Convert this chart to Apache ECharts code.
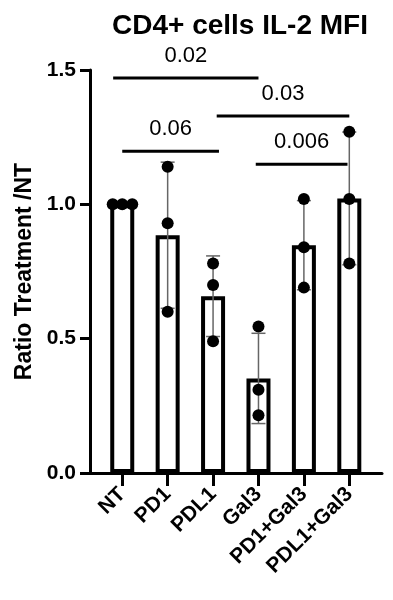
<!DOCTYPE html>
<html>
<head>
<meta charset="utf-8">
<script src="https://cdn.jsdelivr.net/npm/echarts@6/dist/echarts.min.js"></script>
<style>
html,body{margin:0;padding:0;background:#fff;}
#chart{width:393px;height:600px;}
</style>
</head>
<body>
<div id="chart"></div>
<script>
// ---- data ----
const categories = ['NT', 'PD1', 'PDL1', 'Gal3', 'PD1+Gal3', 'PDL1+Gal3'];
const means = [1.00, 0.885, 0.658, 0.352, 0.848, 1.022];
const sds = [0, 0.272, 0.150, 0.168, 0.166, 0.247];
const pointsNT = [1.00, 1.00, 1.00];
const pointsPD1 = [1.14, 0.93, 0.60];
const pointsPDL1 = [0.78, 0.70, 0.49];
const pointsGal3 = [0.545, 0.31, 0.215];
const pointsPD1Gal3 = [1.02, 0.84, 0.69];
const pointsPDL1Gal3 = [1.27, 1.02, 0.78];
const jitterNT = [-0.21, 0, 0.22];
const yTicks = [0, 0.5, 1.0, 1.5];
// significance brackets: [from category, to category, height, p-value]
const bracketFrom = [-0.2, 0, 2.08, 2.94];
const bracketTo = [3.0, 2.13, 5.0, 4.96];
const bracketY = [1.47, 1.198, 1.329, 1.149];
const bracketP = ['0.02', '0.06', '0.03', '0.006'];

const allPoints = [pointsNT, pointsPD1, pointsPDL1, pointsGal3, pointsPD1Gal3, pointsPDL1Gal3];
const scatterData = [];
allPoints.forEach((pts, i) => {
  pts.forEach((v, j) => {
    const dx = i === 0 ? jitterNT[j] : 0;
    scatterData.push([i + dx, v]);
  });
});
const barData = means.map((m, i) => [i, m]);
const errData = means.map((m, i) => [i, m - sds[i], m + sds[i]]).filter((d, i) => sds[i] > 0);
const bracketData = bracketFrom.map((f, i) => [f, bracketTo[i], bracketY[i], i]);

const chart = echarts.init(document.getElementById('chart'), null, {renderer: 'canvas'});
const FONT = 'Liberation Sans, Arial, sans-serif';
chart.setOption({
  animation: false,
  backgroundColor: '#fff',
  title: {
    text: 'CD4+ cells IL-2 MFI',
    left: 235,
    textAlign: 'center',
    top: 7,
    textStyle: {fontFamily: FONT, fontWeight: 'bold', fontSize: 28, color: '#000'}
  },
  grid: {left: 90, right: 11, top: 70, bottom: 127},
  xAxis: {
    type: 'value',
    min: -0.71,
    max: 5.72,
    splitLine: {show: false},
    axisLine: {show: true, onZero: false, lineStyle: {color: '#000', width: 3}},
    axisTick: {show: true, customValues: [0, 1, 2, 3, 4, 5], length: 13, lineStyle: {color: '#000', width: 3}},
    axisLabel: {
      customValues: [0, 1, 2, 3, 4, 5],
      formatter: v => categories[Math.round(v)],
      rotate: 45,
      margin: 18,
      fontFamily: FONT, fontWeight: 'bold', fontSize: 21, color: '#000'
    }
  },
  yAxis: {
    type: 'value',
    min: 0,
    max: 1.5,
    interval: 0.5,
    name: 'Ratio Treatment /NT',
    nameLocation: 'middle',
    nameGap: 53,
    nameTextStyle: {fontFamily: FONT, fontWeight: 'bold', fontSize: 23, color: '#000'},
    splitLine: {show: false},
    axisLine: {show: true, onZero: false, lineStyle: {color: '#000', width: 3}},
    axisTick: {show: true, length: 10, lineStyle: {color: '#000', width: 3}},
    axisLabel: {
      margin: 14,
      formatter: v => v.toFixed(1),
      fontFamily: FONT, fontWeight: 'bold', fontSize: 21, color: '#000'
    }
  },
  series: [
    {
      type: 'bar',
      data: barData,
      barWidth: 24,
      z: 2,
      itemStyle: {color: '#fff', borderColor: '#000', borderWidth: 4}
    },
    {
      type: 'custom',
      z: 3,
      data: errData,
      renderItem: (params, api) => {
        const x = api.value(0);
        const lo = api.coord([x, api.value(1)]);
        const hi = api.coord([x, api.value(2)]);
        const hw = 7;
        const st = {stroke: '#666', lineWidth: 1.5};
        return {
          type: 'group',
          children: [
            {type: 'line', shape: {x1: lo[0], y1: lo[1], x2: hi[0], y2: hi[1]}, style: st},
            {type: 'line', shape: {x1: lo[0] - hw, y1: lo[1], x2: lo[0] + hw, y2: lo[1]}, style: st},
            {type: 'line', shape: {x1: hi[0] - hw, y1: hi[1], x2: hi[0] + hw, y2: hi[1]}, style: st}
          ]
        };
      }
    },
    {
      type: 'scatter',
      z: 4,
      data: scatterData,
      symbol: 'circle',
      symbolSize: 12,
      itemStyle: {color: '#000', opacity: 1}
    },
    {
      type: 'custom',
      z: 5,
      data: bracketData,
      clip: false,
      renderItem: (params, api) => {
        const y = api.value(2);
        const a = api.coord([api.value(0), y]);
        const b = api.coord([api.value(1), y]);
        const idx = api.value(3);
        return {
          type: 'group',
          children: [
            {type: 'line', shape: {x1: a[0], y1: a[1], x2: b[0], y2: b[1]}, style: {stroke: '#000', lineWidth: 3}},
            {type: 'text', style: {
              text: bracketP[idx], x: (a[0] + b[0]) / 2, y: a[1] - 11,
              textAlign: 'center', textVerticalAlign: 'bottom',
              fontFamily: FONT, fontSize: 22, fill: '#000'
            }}
          ]
        };
      }
    }
  ]
});
</script>
</body>
</html>
